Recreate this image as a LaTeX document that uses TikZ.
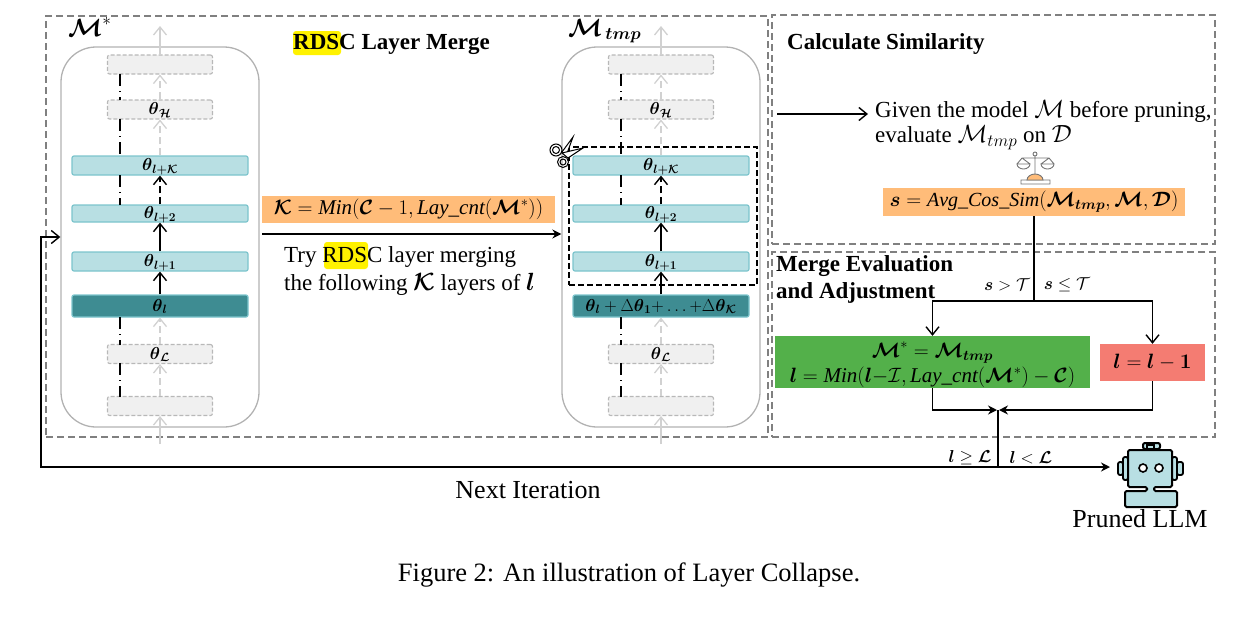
\documentclass[tikz,border=0pt]{standalone}
\usepackage{amsmath}
\usepackage{amssymb}
\usepackage{fontspec}
\setmainfont{Liberation Serif}
\usetikzlibrary{arrows.meta}

\definecolor{tealL}{HTML}{B8DFE3}
\definecolor{tealE}{HTML}{7CC4CC}
\definecolor{tealD}{HTML}{3E8C92}
\definecolor{orangeB}{HTML}{FFBC79}
\definecolor{greenB}{HTML}{53B04A}
\definecolor{redB}{HTML}{F47C72}
\newcommand{\bcal}[1]{\boldsymbol{\mathcal{#1}}}
\newcommand{\bth}{\boldsymbol{\theta}}
\newcommand{\bl}{\boldsymbol{l}}
\newcommand{\fs}[1]{\fontsize{#1}{#1}\selectfont}

\tikzset{
    opentip/.style={-{Straight Barb[length=8pt,width=13pt]}},
    filltip/.style={-{Stealth[length=9pt,width=9pt]}},
    arrline/.style={black,line width=1.4pt},
    greyline/.style={black!18,line width=1.3pt},
    dashline/.style={dash pattern=on 7pt off 4pt},
    dotline/.style={black,line width=1.3pt,dash pattern=on 12pt off 5pt on 1pt off 5pt},
    groupbox/.style={draw=black!50,line width=1.2pt,dash pattern=on 7pt off 4pt,minimum width=#1,inner sep=0pt},
    modelbox/.style={draw=black!30,line width=1.3pt,rounded corners=35pt,minimum width=198pt,minimum height=380pt},
    thetabox/.style={rounded corners=2pt,inner sep=0pt,text height=12pt,text depth=2pt,font=\fs{18.5}},
    greybox/.style={thetabox,draw=black!28,fill=black!6,line width=1.1pt,dash pattern=on 4pt off 2pt,minimum width=105pt,minimum height=19pt},
    lightbox/.style={thetabox,draw=tealE,fill=tealL,line width=1.2pt,minimum width=176pt},
    darkbox/.style={thetabox,draw=tealE,fill=tealD,line width=1.2pt,minimum width=176pt,minimum height=22pt},
    mathbox/.style={fill=#1,inner sep=0pt,font=\fs{21}},
    txt/.style={inner sep=0pt,font=\fs{23}},
    hdr/.style={inner sep=0pt,font=\fs{23}\bfseries,anchor=west},
}

\begin{document}
\begin{tikzpicture}[x=1pt,y=-1pt]
    \useasboundingbox (0,0) rectangle (1259,622);

    % dashed groups
    \node[groupbox=722pt,minimum height=421pt] (mergegroup) at (407,226.5) {};
    \node[groupbox=443pt,minimum height=229pt] (simgroup) at (993.5,129.5) {};
    \node[groupbox=443pt,minimum height=185pt] (evalgroup) at (993.5,344.5) {};

    % the two models
    \node[modelbox] (mstar) at (160,237) {};
    \node[modelbox] (mtmp) at (661,237) {};

    % dark layers, their texts differ
    \node[darkbox] (a-l) at (160,306) {$\bth_{\bl}$};
    \node[darkbox,font=\fs{17}] (b-l) at (661,306) {$\bth_{\bl}+\Delta\bth_{\boldsymbol{1}}{+}\ldots{+}\Delta\bth_{\bcal{K}}$};

    \foreach \m/\dx in {a/0,b/501}{
        \node[greybox] (\m-top) at ({160+\dx},64.5) {};
        \node[greybox] (\m-h) at ({160+\dx},109.5) {$\bth_{\bcal{H}}$};
        \node[lightbox,minimum height=19pt] (\m-k) at ({160+\dx},165.5) {$\bth_{\bl\boldsymbol{+}\bcal{K}}$};
        \node[lightbox,minimum height=17pt] (\m-2) at ({160+\dx},213.5) {$\bth_{\bl\boldsymbol{+2}}$};
        \node[lightbox,minimum height=19pt] (\m-1) at ({160+\dx},261.5) {$\bth_{\bl\boldsymbol{+1}}$};
        \node[greybox] (\m-lo) at ({160+\dx},354) {$\bth_{\bcal{L}}$};
        \node[greybox] (\m-bot) at ({160+\dx},406) {};
        \coordinate (\m-in) at ({160+\dx},444);
        \coordinate (\m-out) at ({160+\dx},26);
        % flow through the layers
        \draw[greyline,opentip] (\m-in) -- (\m-bot.south);
        \draw[greyline,opentip,dashline] (\m-bot.north) -- (\m-lo.south);
        \draw[greyline,opentip,dashline] (\m-lo.north) -- (\m-l.south);
        \draw[arrline,opentip] (\m-l.north) -- (\m-1.south);
        \draw[arrline,opentip] (\m-1.north) -- (\m-2.south);
        \draw[arrline,opentip,dashline] (\m-2.north) -- (\m-k.south);
        \draw[greyline,opentip,dashline] (\m-k.north) -- (\m-h.south);
        \draw[greyline,opentip,dashline] (\m-h.north) -- (\m-top.south);
        \draw[greyline,opentip] (\m-top.north) -- (\m-out);
        % skipped layers
        \draw[dotline] ({120+\dx},74) -- ({120+\dx},100);
        \draw[dotline] ({120+\dx},119) -- ({120+\dx},156);
        \draw[dotline] ({120+\dx},175) -- ({120+\dx},205);
        \draw[dotline] ({120+\dx},317) -- ({120+\dx},345);
        \draw[dotline] ({120+\dx},363) -- ({120+\dx},397);
    }

    \node[inner sep=0pt,anchor=base west,font=\fs{23}] (mstarlabel) at (68,36) {$\bcal{M}^{*}$};
    \node[inner sep=0pt,anchor=base west,font=\fs{24}] (mtmplabel) at (568,36) {$\bcal{M}_{\,\boldsymbol{tmp}}$};

    % merged layers with the scissors
    \node[draw=black,line width=1.5pt,dash pattern=on 6pt off 3pt,minimum width=188pt,minimum height=138pt] (cutbox) at (663,216) {};
    \draw[black,line width=1pt,fill=white] (562,152) -- (573,137) -- (566,156) -- cycle;
    \draw[black,line width=1pt,fill=white] (562,153) -- (583,148) -- (568,158) -- cycle;
    \draw[black,line width=1pt] (556,150) circle (6pt) (556,150) circle (3.5pt) (563,162) circle (5.5pt) (563,162) circle (3pt);

    % merge step
    \fill[yellow,rounded corners=3pt] (293,31) rectangle (341,55);
    \node[hdr] (mergetitle) at (293,44) {RDSC Layer Merge};
    \node[mathbox=orangeB,minimum width=293pt,minimum height=27pt] (kbox) at (408.5,209.5) {$\bcal{K}=\mathit{Min}(\bcal{C}-1,\mathit{Lay\_cnt}(\bcal{M}^{*}))$};
    \coordinate (mergestart) at (262,234);
    \draw[black,line width=1.5pt,filltip] (mergestart) -- (mtmp.west |- mergestart);
    \fill[yellow,rounded corners=3pt] (324,242) rectangle (368,269);
    \node[txt,anchor=west] (trytext) at (284,257) {Try RDSC layer merging};
    \node[txt,anchor=west] (folltext) at (284,284) {the following $\bcal{K}$ layers of $\bl$};

    % similarity
    \node[hdr] (simtitle) at (787,43.5) {Calculate Similarity};
    \coordinate (givenstart) at (777,114);
    \coordinate (givenend) at (868,114);
    \draw[arrline,opentip] (givenstart) -- (givenend);
    \node[txt,anchor=west] (giventext) at (875,111) {Given the model $\mathcal{M}$ before pruning,};
    \node[txt,anchor=west] (evaltext) at (875,138) {evaluate $\mathcal{M}_{tmp}$ on $\mathcal{D}$};
    % balance
    \draw[black!55,line width=0.9pt] (1035,155) -- (1035,175) (1022,158) -- (1049,158)
        (1022,158) -- (1017,164) (1022,158) -- (1030,164) (1049,158) -- (1041,164) (1049,158) -- (1054,164)
        (1017,164) arc (180:0:6.5 and 5) -- cycle
        (1041,164) arc (180:0:6.5 and 5) -- cycle
        (1021,184) -- (1050,184) -- (1050,180) -- (1021,180) -- cycle;
    \draw[black!55,line width=0.9pt,fill=white] (1035,154) circle (2pt);
    \draw[black!55,line width=0.9pt,fill=orangeB] (1027,180) arc (180:360:8 and 6) -- cycle;
    \node[mathbox=orangeB,minimum width=302pt,minimum height=28pt,font=\fs{20}] (sbox) at (1034,202) {$\boldsymbol{s}=\mathit{Avg\_Cos\_Sim}(\bcal{M}_{\boldsymbol{tmp}},\bcal{M},\bcal{D})$};

    % evaluation
    \node[hdr] (evaltitle) at (776,266) {Merge Evaluation};
    \node[hdr] (adjtitle) at (776,293) {and Adjustment};
    \node[mathbox=greenB,minimum width=315pt,minimum height=52pt] (greenbox) at (932.5,362) {};
    \node[inner sep=0pt,font=\fs{21},align=center] (greentext) at (932.5,365) {$\bcal{M}^{*}=\bcal{M}_{\boldsymbol{tmp}}$\\[3pt]$\bl=\mathit{Min}(\bl{-}\mathcal{I},\mathit{Lay\_cnt}(\bcal{M}^{*})-\bcal{C})$};
    \node[mathbox=redB,minimum width=105pt,minimum height=37pt,font=\fs{21}] (redbox) at (1152.5,362.5) {$\bl=\bl-\boldsymbol{1}$};
    \coordinate (split) at (1034,301);
    \coordinate (join) at (998,410);
    \coordinate (branch) at (998,467);
    \coordinate (loopcorner) at (41,467);
    \coordinate (robotin) at (1110,467);
    \draw[arrline] (sbox.south) -- (split);
    \draw[arrline,opentip] (split) -| (greenbox.north);
    \draw[arrline,opentip] (split) -| (redbox.north);
    \draw[arrline,filltip,shorten >=1pt] (greenbox.south) |- (join);
    \draw[arrline,filltip,shorten >=1pt] (redbox.south) |- (join);
    \draw[arrline] (join) -- (branch);
    \draw[arrline,opentip] (branch) -- (loopcorner) |- (mstar.west);
    \draw[arrline,filltip] (branch) -- (robotin);
    \node[inner sep=0pt,font=\fs{19}] (gtlabel) at (1007,285) {$\boldsymbol{s}>\mathcal{T}$};
    \node[inner sep=0pt,font=\fs{19}] (lelabel) at (1067,285) {$\boldsymbol{s}\leq\mathcal{T}$};
    \node[inner sep=0pt,font=\fs{19}] (gelabel) at (970,458) {$\bl\geq\bcal{L}$};
    \node[inner sep=0pt,font=\fs{19}] (ltlabel) at (1031,458) {$\bl<\bcal{L}$};

    % robot
    \draw[black,line width=2pt,fill=tealL,rounded corners=2pt] (1143,449) -- (1143,443) -- (1160,443) -- (1160,449) -- cycle;
    \draw[black,line width=1.3pt,fill=tealL] (1147,445) rectangle (1154,449);
    \draw[black,line width=1.8pt,fill=tealL,rounded corners=2pt] (1118,462) rectangle (1123,475) (1123,457) rectangle (1128,480);
    \draw[black,line width=1.8pt,fill=tealL,rounded corners=2pt] (1177,462) rectangle (1183,475) (1172,457) rectangle (1177,480);
    \draw[black,line width=2pt,fill=tealL,rounded corners=1.5pt] (1125,507) -- (1125,491) -- (1147,491) -- (1147,487) -- (1128,487) -- (1128,450) -- (1172,450) -- (1172,487) -- (1154,487) -- (1154,491) -- (1177,491) -- (1177,507) -- cycle;
    \draw[black,line width=1.6pt,fill=white] (1143,468) circle (4pt) (1159,468) circle (4pt);
    \node[txt,font=\fs{26}] (robotlabel) at (1140,519) {Pruned LLM};

    \node[txt,font=\fs{26}] (nextlabel) at (528,490) {Next Iteration};
    \node[txt,font=\fs{26.5}] (caption) at (629,575) {Figure 2: An illustration of Layer Collapse.};
\end{tikzpicture}
\end{document}
